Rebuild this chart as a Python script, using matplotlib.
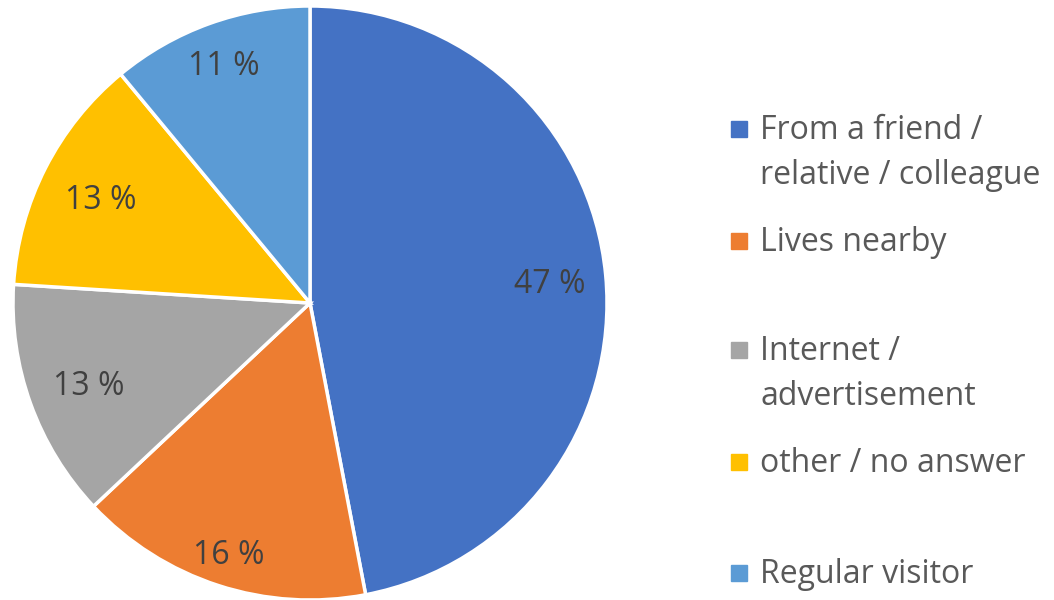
import matplotlib

matplotlib.use("Agg")
import matplotlib.pyplot as plt
import numpy as np
from matplotlib.patches import Rectangle

plt.rcParams["font.family"] = ["Open Sans", "DejaVu Sans"]

# Данные
labels = [
    "From a friend /\nrelative / colleague",
    "Lives nearby",
    "Internet /\nadvertisement",
    "other / no answer",
    "Regular visitor",
]
shares = [47, 16, 13, 13, 11]
colors = ["#4472C4", "#ED7D31", "#A5A5A5", "#FFC000", "#5B9BD5"]
label_dist = [0.81, 0.88, 0.79, 0.79, 0.86]  # как Excel расставил подписи

W, H = 1054, 600
fig = plt.figure(figsize=(W / 100, H / 100), dpi=100)
ax = fig.add_axes([13 / W, 0.0, 594 / W, 594 / H])

wedges, _, autotexts = ax.pie(
    shares,
    colors=colors,
    startangle=90,
    counterclock=False,
    autopct=lambda p: f"{p:.0f} %",
    wedgeprops={"edgecolor": "white", "linewidth": 2.5},
    textprops={"fontsize": 23, "color": "#404040"},
)
ax.set_xlim(-1, 1)
ax.set_ylim(-1, 1)
ax.set_aspect("equal")

for w, t, d in zip(wedges, autotexts, label_dist):
    mid = np.deg2rad((w.theta1 + w.theta2) / 2)
    t.set_position((d * np.cos(mid), d * np.sin(mid)))
    t.set_va("center_baseline")

# Легенда вручную (неравные интервалы как в Excel)
legend_y = [129, 241, 350, 462, 573]  # центр первой строки, px сверху
for lab, col, yp in zip(labels, colors, legend_y):
    fig.patches.append(Rectangle((731 / W, 1 - (yp + 8) / H), 16 / W, 16 / H,
                                 transform=fig.transFigure, color=col))
    for i, line in enumerate(lab.split("\n")):
        base = yp + 10 + i * 45
        fig.text(760 / W, 1 - base / H, line, fontsize=23, color="#595959",
                 va="baseline", ha="left")

fig.savefig("out.png", dpi=100)
